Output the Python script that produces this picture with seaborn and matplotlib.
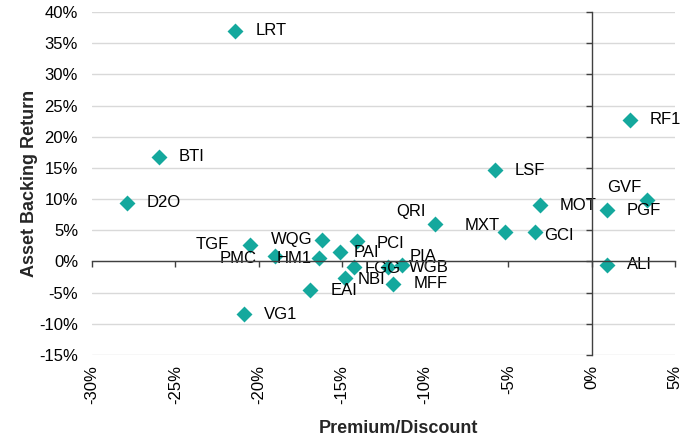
import pandas as pd
import matplotlib.pyplot as plt
import matplotlib.ticker as mticker
import seaborn as sns

# данные (в процентах)
codes = ['LRT', 'BTI', 'D2O', 'TGF', 'PMC', 'HM1', 'WQG', 'PAI', 'PCI', 'FGG',
         'NBI', 'EAI', 'VG1', 'WGB', 'PIA', 'MFF', 'QRI', 'MXT', 'GCI', 'MOT',
         'LSF', 'RF1', 'GVF', 'PGF', 'ALI']
premium_discount = [-21.4, -26.0, -27.9, -20.5, -19.0, -16.4, -16.2, -15.1, -14.1, -14.3,
                    -14.8, -16.9, -20.9, -12.2, -11.4, -11.9, -9.4, -5.2, -3.4, -3.1,
                    -5.8, 2.3, 3.3, 0.9, 0.9]
asset_backing = [37.0, 16.8, 9.4, 2.7, 0.8, 0.5, 3.5, 1.5, 3.2, -0.9,
                 -2.7, -4.6, -8.5, -0.9, -0.5, -3.6, 6.0, 4.8, 4.7, 9.0,
                 14.6, 22.7, 9.8, 8.2, -0.5]

# смещения подписей в пикселях (dx, dy, выравнивание); по умолчанию справа
label_offsets = {
    'TGF': (-21, 0, 'right'), 'PMC': (-19, -2, 'right'), 'HM1': (-7, 0, 'right'),
    'WQG': (-9, 0, 'right'), 'QRI': (-9, 13, 'right'), 'MXT': (-5, 6, 'right'),
    'GVF': (-5, 13, 'right'), 'GCI': (9, -3, 'left'), 'PIA': (8, 8, 'left'),
    'PAI': (13, 0, 'left'), 'FGG': (11, -1, 'left'), 'NBI': (12, -1, 'left'),
    'PCI': (20, -2, 'left'),
}

df = pd.DataFrame({'code': codes, 'x': premium_discount, 'y': asset_backing})

sns.set_theme(style='white')
plt.rcParams['font.family'] = ['Liberation Sans', 'DejaVu Sans']

fig = plt.figure(figsize=(6.83, 4.46), dpi=100)
ax = fig.add_axes([92 / 683, 1 - 355 / 446, (675 - 92) / 683, (355 - 12) / 446])

sns.scatterplot(data=df, x='x', y='y', marker='D', s=66, color='#14A89D',
                linewidth=0, ax=ax, zorder=3)

for code, xv, yv in zip(codes, premium_discount, asset_backing):
    dx, dy, ha = label_offsets.get(code, (20, 0, 'left'))
    ax.annotate(code, (xv, yv), xytext=(dx, dy), textcoords='offset pixels',
                ha=ha, va='center', fontsize=12, color='black', zorder=4)

ax.set_xlim(-30, 5)
ax.set_ylim(-15, 40)
ax.xaxis.set_major_locator(mticker.MultipleLocator(5))
ax.yaxis.set_major_locator(mticker.MultipleLocator(5))
ax.xaxis.set_major_formatter(mticker.FuncFormatter(lambda v, p: f'{v:.0f}%'))
ax.yaxis.set_major_formatter(mticker.FuncFormatter(lambda v, p: f'{v:.0f}%'))
ax.grid(axis='y', color='#d9d9d9', linewidth=1)
ax.grid(axis='x', visible=False)
for sp in ax.spines.values():
    sp.set_visible(False)
ax.tick_params(axis='y', length=0, pad=10, labelsize=12, labelcolor='black')
ax.tick_params(axis='x', length=0, pad=7, labelsize=12, labelcolor='black',
               labelrotation=90)
ax.set_xlabel('Premium/Discount', fontsize=13, fontweight='bold')
ax.xaxis.set_label_coords(0.525, -0.19)
ax.set_ylabel('Asset Backing Return', fontsize=13, fontweight='bold', labelpad=1)

# оси, проходящие через ноль
ax0 = fig.add_axes(ax.get_position(), sharex=ax, sharey=ax, facecolor='none')
ax0.spines['left'].set_position(('data', 0))
ax0.spines['bottom'].set_position(('data', 0))
ax0.spines['top'].set_visible(False)
ax0.spines['right'].set_visible(False)
for side in ['left', 'bottom']:
    ax0.spines[side].set_color('#404040')
    ax0.spines[side].set_linewidth(1)
ax0.tick_params(direction='out', length=4, width=1, color='#404040',
                labelleft=False, labelbottom=False, left=True, bottom=True)
ax0.set_xlabel('')
ax0.set_ylabel('')
ax0.grid(False)
ax0.set_zorder(ax.get_zorder() + 1)

fig.savefig('out.png', dpi=100)
